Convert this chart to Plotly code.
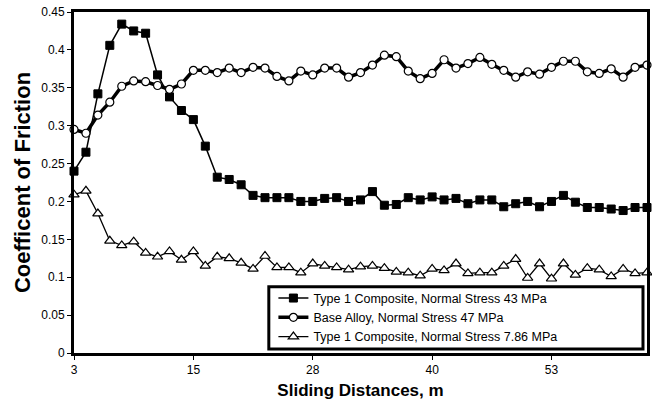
import plotly.graph_objects as go

# Sliding distance (m): 49 readings taken every 1.25 m from 3 m
start_m = 3.0
step_m = 1.25
n_points = 49
distance = [start_m + step_m * i for i in range(n_points)]

tick_vals = [3, 15.5, 28, 40.5, 53]
tick_text = ["3", "15", "28", "40", "53"]

cof_type1_43 = [
    0.240, 0.265, 0.342, 0.406, 0.434, 0.425, 0.422, 0.367, 0.338, 0.320,
    0.308, 0.273, 0.232, 0.229, 0.222, 0.208, 0.205, 0.205, 0.205, 0.200,
    0.200, 0.204, 0.205, 0.200, 0.202, 0.213, 0.195, 0.196, 0.205, 0.202,
    0.206, 0.202, 0.204, 0.197, 0.202, 0.202, 0.193, 0.197, 0.200, 0.193,
    0.200, 0.208, 0.199, 0.192, 0.192, 0.190, 0.188, 0.192, 0.192,
]

cof_base_47 = [
    0.295, 0.290, 0.314, 0.331, 0.352, 0.359, 0.358, 0.353, 0.348, 0.355,
    0.373, 0.373, 0.370, 0.376, 0.370, 0.377, 0.376, 0.365, 0.359, 0.372,
    0.367, 0.376, 0.376, 0.364, 0.370, 0.380, 0.393, 0.391, 0.372, 0.362,
    0.369, 0.387, 0.376, 0.382, 0.390, 0.381, 0.373, 0.364, 0.371, 0.368,
    0.377, 0.385, 0.385, 0.371, 0.369, 0.375, 0.364, 0.377, 0.380,
]

cof_type1_786 = [
    0.209, 0.214, 0.184, 0.148, 0.142, 0.147, 0.132, 0.127, 0.134, 0.123,
    0.134, 0.115, 0.127, 0.125, 0.119, 0.111, 0.128, 0.113, 0.113, 0.106,
    0.118, 0.115, 0.113, 0.110, 0.114, 0.115, 0.112, 0.107, 0.106, 0.102,
    0.111, 0.109, 0.118, 0.105, 0.106, 0.106, 0.115, 0.124, 0.099, 0.118,
    0.098, 0.118, 0.103, 0.112, 0.110, 0.101, 0.111, 0.105, 0.106,
]

y_ticks = [0, 0.05, 0.1, 0.15, 0.2, 0.25, 0.3, 0.35, 0.4, 0.45]
y_tick_text = ["0", "0.05", "0.1", "0.15", "0.2", "0.25", "0.3", "0.35", "0.4", "0.45"]

FONT = "Arial, Liberation Sans, sans-serif"

fig = go.Figure()

fig.add_trace(go.Scatter(
    x=distance, y=cof_type1_43, mode="lines+markers",
    name="Type 1 Composite, Normal Stress 43 MPa",
    line=dict(color="black", width=1.5),
    marker=dict(symbol="square", size=8, color="black",
                line=dict(color="black", width=1)),
    cliponaxis=False,
))

fig.add_trace(go.Scatter(
    x=distance, y=cof_base_47, mode="lines+markers",
    name="Base Alloy, Normal Stress 47 MPa",
    line=dict(color="black", width=3.5),
    marker=dict(symbol="circle", size=8, color="white",
                line=dict(color="black", width=1.2)),
    cliponaxis=False,
))

fig.add_trace(go.Scatter(
    x=distance, y=cof_type1_786, mode="lines+markers",
    name="Type 1 Composite, Normal Stress 7.86 MPa",
    line=dict(color="black", width=1.3),
    marker=dict(symbol="triangle-up", size=9, color="white",
                line=dict(color="black", width=1.2)),
    cliponaxis=False,
))

# framed box behind the legend, spanning to the right side of the plot
fig.add_shape(
    type="rect", xref="paper", yref="paper",
    x0=0.340, x1=0.993, y0=0.012, y1=0.194,
    line=dict(color="black", width=3), fillcolor="white", layer="above",
)

fig.update_layout(
    width=652, height=414,
    margin=dict(l=74, r=2, t=12, b=61),
    paper_bgcolor="white", plot_bgcolor="white",
    font=dict(family=FONT, size=12, color="black"),
    showlegend=True,
    legend=dict(
        x=0.348, y=0.204, xanchor="left", yanchor="top",
        bgcolor="rgba(0,0,0,0)", borderwidth=0,
        font=dict(family=FONT, size=12.5, color="black"),
        tracegroupgap=0, itemwidth=30,
    ),
)

fig.update_xaxes(
    range=[start_m, start_m + step_m * (n_points - 1)],
    tickvals=tick_vals, ticktext=tick_text,
    showgrid=False, zeroline=False,
    showline=True, linecolor="black", linewidth=3, mirror=True,
    ticks="outside", ticklen=4, tickwidth=1, tickcolor="black",
    tickfont=dict(family=FONT, size=12),
    title=dict(text="<b>Sliding Distances, m</b>",
               font=dict(family=FONT, size=17), standoff=8),
)

fig.update_yaxes(
    range=[0, 0.45],
    tickvals=y_ticks, ticktext=y_tick_text,
    showgrid=False, zeroline=False,
    showline=True, linecolor="black", linewidth=3, mirror=True,
    ticks="outside", ticklen=4, tickwidth=1, tickcolor="black",
    tickfont=dict(family=FONT, size=12),
    title=dict(text="<b>Coefficent of Friction</b>",
               font=dict(family=FONT, size=22), standoff=5),
)

fig.write_html("out.html")
